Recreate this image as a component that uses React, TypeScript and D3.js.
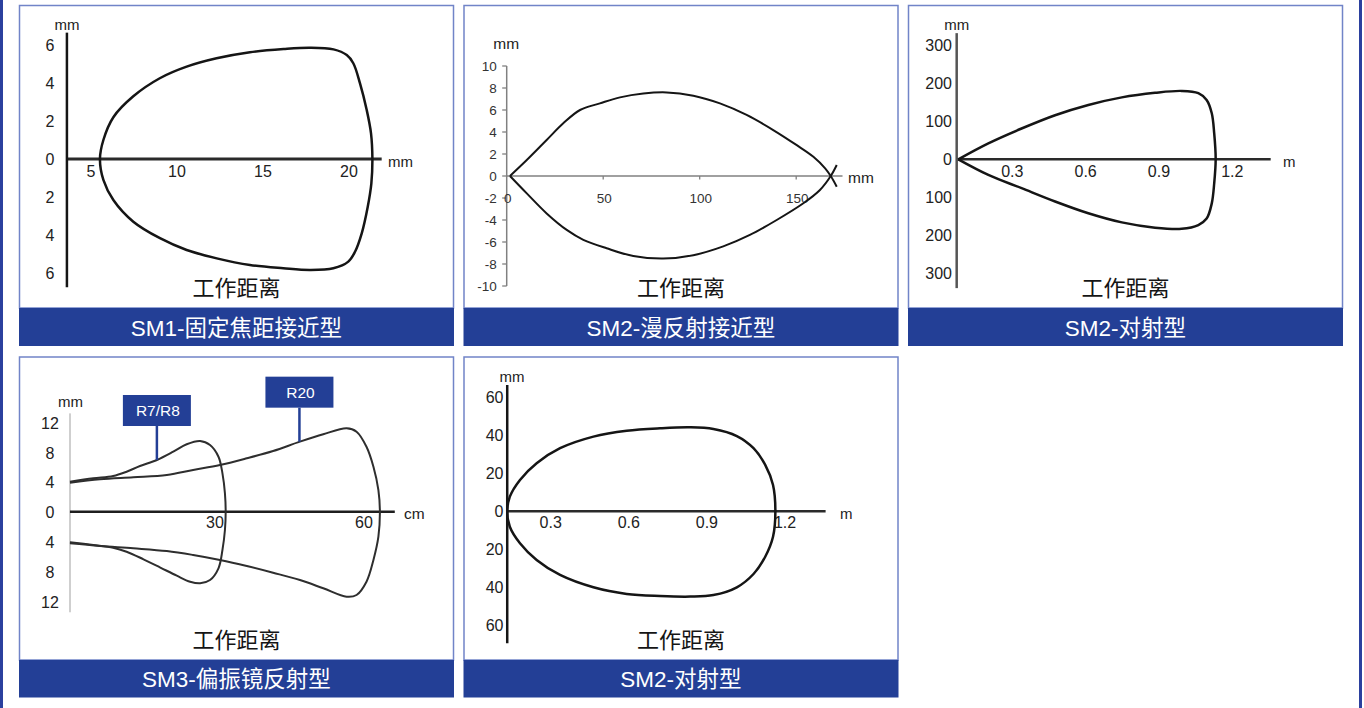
import React from 'react';
import * as d3 from 'd3';

const FONT = "'Liberation Sans', Arial, 'Noto Sans CJK SC', sans-serif";
const CJK = "'Noto Sans CJK SC', 'Liberation Sans', sans-serif";
const BLUE = '#233f96';
const BORDER = '#7184c8';
const INK = '#151515';
const LABEL = '#222';

const titles = ['SM1-固定焦距接近型', 'SM2-漫反射接近型', 'SM2-对射型', 'SM3-偏振镜反射型', 'SM2-对射型'];
const axisTitle = '工作距离';

// SM1 固定焦距接近型 (mm / mm)
const sm1XTicks = [5, 10, 15, 20];
const sm1YTicks = [6, 4, 2, 0, -2, -4, -6];
const sm1UpX = [5.52, 5.72, 6.3, 7.46, 9.0, 10.56, 12.3, 14.24, 16.2, 17.73, 19.1, 19.87, 20.25, 20.64, 21.03, 21.28, 21.36];
const sm1UpY = [0, 1.0, 2.2, 3.3, 4.25, 4.86, 5.3, 5.62, 5.79, 5.86, 5.77, 5.47, 5.04, 3.98, 2.58, 1.35, 0];
const sm1LoX = [5.72, 6.3, 7.46, 9.01, 10.56, 12.31, 14.24, 16.18, 17.73, 19.09, 19.96, 20.35, 20.74, 21.09, 21.3];
const sm1LoY = [-1.1, -2.16, -3.3, -4.17, -4.79, -5.23, -5.58, -5.75, -5.84, -5.75, -5.4, -4.88, -3.91, -2.51, -1.28];

// SM2 漫反射接近型 (mm / mm)
const sm2XTicks = [0, 50, 100, 150];
const sm2YTicks = [10, 8, 6, 4, 2, 0, -2, -4, -6, -8, -10];
const sm2UpX = [1.7, 10.4, 20.7, 29.3, 38, 48.3, 58.7, 70.8, 82.9, 96.7, 110.5, 124.3, 138.1, 150.3, 158.9, 165, 167.9, 171];
const sm2UpY = [0, 1.45, 3.27, 4.79, 6.0, 6.6, 7.15, 7.5, 7.6, 7.3, 6.6, 5.55, 4.18, 2.8, 1.75, 0.7, 0, -0.97];
const sm2LoX = [1.7, 10.4, 20.7, 31.1, 39.7, 51.8, 65.6, 81.1, 96.7, 112.2, 126, 139.9, 153.7, 162.3, 167.9, 171];
const sm2LoY = [0, -1.58, -3.4, -4.9, -5.8, -6.57, -7.27, -7.5, -7.2, -6.4, -5.36, -4.0, -2.48, -1.27, 0, 1.0];

// SM2 对射型, upper row (m / mm)
const sm3XTicks = [0.3, 0.6, 0.9, 1.2];
const sm3YTicks = [300, 200, 100, 0, -100, -200, -300];
const sm3UpX = [0.079, 0.202, 0.338, 0.475, 0.611, 0.748, 0.884, 0.993, 1.061, 1.095, 1.116, 1.126, 1.132];
const sm3UpY = [0, 42, 81, 116, 143, 163, 175, 180, 174, 156, 121, 68, 0];
const sm3LoX = [0.079, 0.202, 0.338, 0.475, 0.611, 0.748, 0.884, 0.993, 1.061, 1.095, 1.116, 1.126];
const sm3LoY = [0, -41, -76, -111, -142, -166, -180, -183, -173, -156, -116, -63];

// SM3 偏振镜反射型 (cm / mm)
const sm4XTicks = [30, 60];
const sm4YTicks = [12, 8, 4, 0, -4, -8, -12];
const r7UpX = [0.8, 5.5, 9.5, 12.2, 14.9, 18.3, 21.6, 24.3, 27.0, 29.0, 30.7, 31.5, 32.0, 32.15];
const r7UpY = [4.03, 4.48, 4.79, 5.37, 6.13, 6.94, 8.05, 9.05, 9.49, 8.95, 7.38, 5.15, 2.47, 0];
const r7LoX = [0.8, 5.5, 9.5, 12.2, 15.6, 18.9, 22.3, 25.0, 27.0, 29.0, 30.7, 31.5, 32.0];
const r7LoY = [-4.1, -4.47, -4.83, -5.37, -6.39, -7.46, -8.59, -9.4, -9.61, -9.17, -7.6, -5.14, -2.46];
const r20UpX = [0.8, 6.85, 13.55, 20.3, 25.6, 31.0, 36.4, 41.7, 47.1, 51.8, 56.5, 58.5, 60.5, 61.9, 62.9, 63.2];
const r20UpY = [3.89, 4.35, 4.62, 4.93, 5.6, 6.27, 7.17, 8.15, 9.4, 10.39, 11.19, 10.74, 8.72, 6.04, 2.91, 0];
const r20LoX = [0.8, 6.85, 13.55, 20.3, 25.6, 31.0, 36.4, 41.7, 47.1, 51.8, 56.5, 58.5, 60.5, 61.9, 62.9];
const r20LoY = [-4.24, -4.6, -4.91, -5.28, -5.81, -6.48, -7.29, -8.19, -9.17, -10.28, -11.41, -11.18, -9.4, -6.48, -3.36];
const calloutLabels = ['R7/R8', 'R20'];
const calloutX = [18.3, 47.0];
const calloutY = [6.94, 9.4];

// SM2 对射型, lower row (m / mm)
const sm5XTicks = [0.3, 0.6, 0.9, 1.2];
const sm5YTicks = [60, 40, 20, 0, -20, -40, -60];
const sm5UpX = [0.133, 0.143, 0.182, 0.246, 0.336, 0.464, 0.592, 0.72, 0.836, 0.925, 1.015, 1.079, 1.124, 1.154, 1.163];
const sm5UpY = [0, 7.7, 16.5, 25.3, 33.2, 39.3, 42.4, 43.7, 44.2, 43.3, 39.6, 33.2, 24.4, 13.8, 0];
const sm5LoX = [0.143, 0.182, 0.246, 0.336, 0.464, 0.592, 0.72, 0.836, 0.925, 1.015, 1.079, 1.124, 1.154];
const sm5LoY = [-8.1, -16.8, -25.6, -33.5, -40, -43.5, -44.6, -44.9, -44.1, -40, -33, -23.9, -13.4];

type Pt = [number, number];
const zip = (xs: number[], ys: number[]): Pt[] => xs.map((x, i) => [x, ys[i]] as Pt);

const cols = [19.5, 464, 908.5];
const panelW = 434;
const rows = [
  { top: 5.5, bar: 308, barH: 38 },
  { top: 357, bar: 660, barH: 37.5 },
];

function Frame({ col, row, title }: { col: number; row: number; title: string }) {
  const x = cols[col];
  const r = rows[row];
  const cx = x + panelW / 2;
  return (
    <g>
      <rect x={x} y={r.top} width={panelW} height={r.bar - r.top} fill="#fff" stroke={BORDER} strokeWidth={1.5} />
      <rect x={x - 0.5} y={r.bar} width={panelW + 1} height={r.barH} fill={BLUE} />
      <text x={cx} y={r.bar + r.barH / 2 + 1} fill="#fff" fontSize={22.5} textAnchor="middle"
        dominantBaseline="central" fontFamily={FONT}>{title}</text>
      <text x={cx} y={r.bar - 22.5} fill={INK} fontSize={22} textAnchor="middle"
        dominantBaseline="central" fontFamily={CJK}>{axisTitle}</text>
    </g>
  );
}

const t = (x: number, y: number, s: string, anchor: string, size = 16, key?: any, fill = LABEL) => (
  <text key={key} x={x} y={y} fontSize={size} textAnchor={anchor as any} dominantBaseline="central"
    fontFamily={FONT} fill={fill}>{s}</text>
);

function Panel1() {
  const xs = d3.scaleLinear().domain([5, 20]).range([91, 349]);
  const ys = d3.scaleLinear().domain([-6, 6]).range([273, 45]);
  const ring = zip(sm1UpX, sm1UpY).concat(zip(sm1LoX, sm1LoY).reverse());
  const line = d3.line<Pt>().x(d => xs(d[0])).y(d => ys(d[1])).curve(d3.curveCatmullRomClosed.alpha(0.5));
  const ax = xs(3.6);
  return (
    <g>
      <line x1={ax} x2={xs(21.9)} y1={ys(0)} y2={ys(0)} stroke="#2a2a2a" strokeWidth={3} />
      <line x1={ax} x2={ax} y1={ys(6.65)} y2={ys(-6.75)} stroke={INK} strokeWidth={2.5} />
      {sm1YTicks.map(v => t(50, ys(v), String(Math.abs(v)), 'middle', 16, 'y' + v))}
      {sm1XTicks.map(v => t(xs(v), ys(0) + 12.5, String(v), 'middle', 16, 'x' + v))}
      {t(388, ys(0) + 2, 'mm', 'start', 15)}
      {t(ax, 24, 'mm', 'middle', 15)}
      <path d={line(ring) || ''} fill="none" stroke={INK} strokeWidth={2.5} />
    </g>
  );
}

function Panel2() {
  const xs = d3.scaleLinear().domain([0, 150]).range([506.7, 796.2]);
  const ys = d3.scaleLinear().domain([-10, 10]).range([286, 66]);
  const line = d3.line<Pt>().x(d => xs(d[0])).y(d => ys(d[1])).curve(d3.curveCatmullRom.alpha(0.5));
  const ax = xs(0);
  return (
    <g>
      <line x1={ax} x2={xs(174)} y1={ys(0)} y2={ys(0)} stroke="#808080" strokeWidth={1.5} />
      <line x1={ax} x2={ax} y1={ys(10)} y2={ys(-10)} stroke="#808080" strokeWidth={1.5} />
      {sm2YTicks.map(v => (
        <line key={'yt' + v} x1={ax - 4.5} x2={ax} y1={ys(v)} y2={ys(v)} stroke="#808080" strokeWidth={1.3} />
      ))}
      {sm2XTicks.filter(v => v > 0).map(v => (
        <line key={'xt' + v} x1={xs(v)} x2={xs(v)} y1={ys(0)} y2={ys(0) + 3.5} stroke="#808080" strokeWidth={1.3} />
      ))}
      {sm2YTicks.map(v => t(ax - 10, ys(v), String(v), 'end', 13.5, 'y' + v, '#333'))}
      {sm2XTicks.map(v => t(xs(v) + 1, ys(0) + 22, String(v), 'middle', 13.5, 'x' + v, '#333'))}
      {t(848, ys(0) + 1, 'mm', 'start', 15.5)}
      {t(ax - 0.5, 43, 'mm', 'middle', 15.5)}
      <path d={line(zip(sm2UpX, sm2UpY)) || ''} fill="none" stroke={INK} strokeWidth={2} />
      <path d={line(zip(sm2LoX, sm2LoY)) || ''} fill="none" stroke={INK} strokeWidth={2} />
    </g>
  );
}

function Panel3() {
  const xs = d3.scaleLinear().domain([0.3, 1.2]).range([1012.3, 1232.3]);
  const ys = d3.scaleLinear().domain([-300, 300]).range([273.3, 45.3]);
  const path = zip(sm3UpX, sm3UpY).concat(zip(sm3LoX, sm3LoY).reverse());
  const line = d3.line<Pt>().x(d => xs(d[0])).y(d => ys(d[1])).curve(d3.curveCatmullRom.alpha(0.5));
  const ax = xs(0.0725);
  return (
    <g>
      <line x1={ax} x2={xs(1.357)} y1={ys(0)} y2={ys(0)} stroke="#2a2a2a" strokeWidth={2.5} />
      <line x1={ax} x2={ax} y1={ys(332)} y2={ys(-339)} stroke="#555" strokeWidth={2.5} />
      {sm3YTicks.map(v => t(952, ys(v), String(Math.abs(v)), 'end', 16, 'y' + v))}
      {sm3XTicks.map(v => t(xs(v), ys(0) + 12, String(v), 'middle', 16, 'x' + v))}
      {t(1283, ys(0) + 2, 'm', 'start', 15)}
      {t(ax, 24, 'mm', 'middle', 15)}
      <path d={line(path) || ''} fill="none" stroke={INK} strokeWidth={2.5} />
    </g>
  );
}

function Panel4() {
  const xs = d3.scaleLinear().domain([30, 60]).range([215, 364]);
  const ys = d3.scaleLinear().domain([-12, 12]).range([601.1, 422.3]);
  const line = d3.line<Pt>().x(d => xs(d[0])).y(d => ys(d[1])).curve(d3.curveCatmullRom.alpha(0.5));
  const r7 = zip(r7UpX, r7UpY).concat(zip(r7LoX, r7LoY).reverse());
  const r20 = zip(r20UpX, r20UpY).concat(zip(r20LoX, r20LoY).reverse());
  const ax = xs(0.8);
  return (
    <g>
      <line x1={ax} x2={ax} y1={ys(13.2)} y2={ys(-13.5)} stroke="#cfcfcf" strokeWidth={2} />
      <line x1={ax} x2={xs(66.2)} y1={ys(0)} y2={ys(0)} stroke="#1e1e1e" strokeWidth={2.5} />
      {sm4YTicks.map(v => t(50, ys(v) + 1, String(Math.abs(v)), 'middle', 16, 'y' + v))}
      {sm4XTicks.map(v => t(xs(v), ys(0) + 11, String(v), 'middle', 16, 'x' + v))}
      {t(404, ys(0) + 1.5, 'cm', 'start', 15.5)}
      {t(ax + 0.5, 401.7, 'mm', 'middle', 15)}
      <path d={line(r7) || ''} fill="none" stroke="#2e2e2e" strokeWidth={2} />
      <path d={line(r20) || ''} fill="none" stroke="#2e2e2e" strokeWidth={2} />
      {calloutLabels.map((lab, i) => {
        const px = xs(calloutX[i]);
        const py = ys(calloutY[i]);
        const boxBottom = py - 34;
        return (
          <g key={lab}>
            <line x1={px} x2={px} y1={boxBottom} y2={py} stroke={BLUE} strokeWidth={2.5} />
            <rect x={px - 34} y={boxBottom - 31} width={68} height={31} fill={BLUE} />
            {t(px + 1, boxBottom - 15.5, lab, 'middle', 15.5, undefined, '#fff')}
          </g>
        );
      })}
    </g>
  );
}

function Panel5() {
  const xs = d3.scaleLinear().domain([0.3, 1.2]).range([550.7, 785]);
  const ys = d3.scaleLinear().domain([-60, 60]).range([625.3, 397.3]);
  const ring = zip(sm5UpX, sm5UpY).concat(zip(sm5LoX, sm5LoY).reverse());
  const line = d3.line<Pt>().x(d => xs(d[0])).y(d => ys(d[1])).curve(d3.curveCatmullRomClosed.alpha(0.5));
  const ax = xs(0.133);
  return (
    <g>
      <line x1={ax} x2={xs(1.356)} y1={ys(0)} y2={ys(0)} stroke="#2a2a2a" strokeWidth={2.5} />
      <line x1={ax} x2={ax} y1={ys(66.5)} y2={ys(-69.5)} stroke={INK} strokeWidth={2.5} />
      {sm5YTicks.map(v => t(503.5, ys(v), String(Math.abs(v)), 'end', 16, 'y' + v))}
      {sm5XTicks.map(v => t(xs(v), ys(0) + 11.5, String(v), 'middle', 16, 'x' + v))}
      {t(840, ys(0) + 2, 'm', 'start', 15)}
      {t(512, 376, 'mm', 'middle', 15)}
      <path d={line(ring) || ''} fill="none" stroke={INK} strokeWidth={2.5} />
    </g>
  );
}

export default function App() {
  return (
    <div style={{ position: 'absolute', left: 0, top: 0 }}>
      <svg width={1364} height={708} style={{ display: 'block', background: '#fff' }}>
        <rect x={0} y={0} width={3} height={708} fill="#2b409e" />
        <rect x={1359} y={0} width={3} height={708} fill="#2b409e" />
        <Frame col={0} row={0} title={titles[0]} />
        <Frame col={1} row={0} title={titles[1]} />
        <Frame col={2} row={0} title={titles[2]} />
        <Frame col={0} row={1} title={titles[3]} />
        <Frame col={1} row={1} title={titles[4]} />
        <Panel1 />
        <Panel2 />
        <Panel3 />
        <Panel4 />
        <Panel5 />
      </svg>
    </div>
  );
}
